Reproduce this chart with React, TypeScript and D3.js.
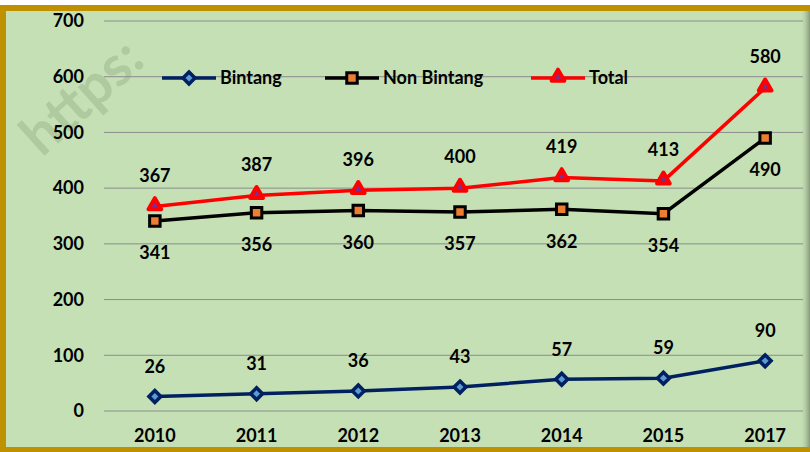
import { useEffect, useRef } from "react";
import * as d3 from "d3";

const years = ["2010", "2011", "2012", "2013", "2014", "2015", "2017"];
const bintang = [26, 31, 36, 43, 57, 59, 90];
const nonBintang = [341, 356, 360, 357, 362, 354, 490];
const total = [367, 387, 396, 400, 419, 413, 580];
const yTicks = [0, 100, 200, 300, 400, 500, 600, 700];

const W = 810;
const H = 452;
const FONT = "Lato, 'Open Sans', sans-serif";

const App = () => {
  const ref = useRef<SVGSVGElement>(null);

  useEffect(() => {
    const svg = d3.select(ref.current);
    svg.selectAll("*").remove();

    const margin = { left: 104, right: -6, top: 21, bottom: 41 };

    const x = d3
      .scaleBand()
      .domain(years)
      .range([margin.left, W - margin.right])
      .padding(0);
    const cx = (d: string) => (x(d) as number) + x.bandwidth() / 2;

    const y = d3
      .scaleLinear()
      .domain([0, 700])
      .range([H - margin.bottom, margin.top]);

    // background + shadow on the right
    const defs = svg.append("defs");
    const grad = defs.append("linearGradient").attr("id", "shade").attr("x1", 0).attr("x2", 1);
    grad.append("stop").attr("offset", 0).attr("stop-color", "#c5e0b4").attr("stop-opacity", 0);
    grad.append("stop").attr("offset", 1).attr("stop-color", "#7f8f75").attr("stop-opacity", 0.9);

    svg.append("rect").attr("width", W).attr("height", H).attr("fill", "#ffffff");
    svg.append("rect").attr("x", 0).attr("y", 8).attr("width", W).attr("height", H).attr("fill", "#c5e0b4");
    svg.append("rect").attr("x", 800).attr("y", 11).attr("width", 10).attr("height", H).attr("fill", "url(#shade)");
    svg
      .append("rect")
      .attr("x", 3)
      .attr("y", 8)
      .attr("width", 840)
      .attr("height", 442)
      .attr("fill", "none")
      .attr("stroke", "#bf9000")
      .attr("stroke-width", 6);

    // watermark
    svg
      .append("text")
      .attr("transform", "translate(42,158) rotate(-42)")
      .attr("font-family", FONT)
      .attr("font-weight", "bold")
      .attr("font-size", 56)
      .attr("fill", "#9bb58c")
      .attr("opacity", 0.5)
      .text("https:");

    // gridlines
    svg
      .append("g")
      .selectAll("line")
      .data(yTicks)
      .enter()
      .append("line")
      .attr("x1", margin.left)
      .attr("x2", 803)
      .attr("y1", (d) => y(d))
      .attr("y2", (d) => y(d))
      .attr("stroke", "#8c8c8c")
      .attr("stroke-width", 1);

    // y axis labels
    const yAxis = svg
      .append("g")
      .attr("transform", `translate(${margin.left - 20},0)`)
      .call(d3.axisLeft(y).tickValues(yTicks).tickSize(0).tickPadding(0));
    yAxis.select(".domain").remove();
    yAxis
      .selectAll("text")
      .attr("font-family", FONT)
      .attr("font-weight", "bold")
      .attr("font-size", 18)
      .attr("fill", "#000");

    // x axis labels
    const xAxis = svg
      .append("g")
      .attr("transform", `translate(0,${H - margin.bottom + 18})`)
      .call(d3.axisBottom(x).tickSize(0).tickPadding(0));
    xAxis.select(".domain").remove();
    xAxis
      .selectAll("text")
      .attr("font-family", FONT)
      .attr("font-weight", "bold")
      .attr("font-size", 18)
      .attr("fill", "#000");

    const line = d3
      .line<number>()
      .x((_, i) => cx(years[i]))
      .y((d) => y(d));

    const series = [
      { name: "Bintang", values: bintang, color: "#002060", marker: "diamond", labelDy: -30 },
      { name: "Non Bintang", values: nonBintang, color: "#000000", marker: "square", labelDy: 32 },
      { name: "Total", values: total, color: "#ff0000", marker: "triangle", labelDy: -31 },
    ];

    const drawMarker = (g: any, kind: string, px: number, py: number) => {
      if (kind === "diamond") {
        g.append("path")
          .attr("d", d3.symbol(d3.symbolDiamond2, 90)())
          .attr("transform", `translate(${px},${py})`)
          .attr("fill", "#5b9bd5")
          .attr("stroke", "#002060")
          .attr("stroke-width", 3.5);
      } else if (kind === "square") {
        g.append("path")
          .attr("d", d3.symbol(d3.symbolSquare, 110)())
          .attr("transform", `translate(${px},${py})`)
          .attr("fill", "#ed7d31")
          .attr("stroke", "#000000")
          .attr("stroke-width", 3);
      } else {
        g.append("path")
          .attr("d", d3.symbol(d3.symbolTriangle, 70)())
          .attr("transform", `translate(${px},${py - 1})`)
          .attr("fill", "#7030a0")
          .attr("stroke", "#ff0000")
          .attr("stroke-width", 4)
          .attr("stroke-linejoin", "round");
      }
    };

    series.forEach((s) => {
      const g = svg.append("g");
      g.append("path")
        .datum(s.values)
        .attr("d", line)
        .attr("fill", "none")
        .attr("stroke", s.color)
        .attr("stroke-width", 3.5);
      s.values.forEach((v, i) => drawMarker(g, s.marker, cx(years[i]), y(v)));
      g.selectAll("text")
        .data(s.values)
        .enter()
        .append("text")
        .attr("x", (_, i) => cx(years[i]))
        .attr("y", (d) => y(d) + s.labelDy)
        .attr("dy", "0.35em")
        .attr("text-anchor", "middle")
        .attr("font-family", FONT)
        .attr("font-weight", "bold")
        .attr("font-size", 18)
        .attr("fill", "#000")
        .text((d) => d);
    });

    // legend
    const legendX = [162, 325, 531];
    const legendY = 78;
    series.forEach((s, i) => {
      const g = svg.append("g");
      g.append("line")
        .attr("x1", legendX[i])
        .attr("x2", legendX[i] + 54)
        .attr("y1", legendY)
        .attr("y2", legendY)
        .attr("stroke", s.color)
        .attr("stroke-width", 3.5);
      drawMarker(g, s.marker, legendX[i] + 27, legendY);
      g.append("text")
        .attr("x", legendX[i] + 58)
        .attr("y", legendY)
        .attr("dy", "0.35em")
        .attr("font-family", FONT)
        .attr("font-weight", "bold")
        .attr("font-size", 18)
        .attr("fill", "#000")
        .text(s.name);
    });
  }, []);

  return (
    <svg
      ref={ref}
      width={W}
      height={H}
      style={{ position: "absolute", left: 0, top: 0, display: "block" }}
    />
  );
};

export default App;
